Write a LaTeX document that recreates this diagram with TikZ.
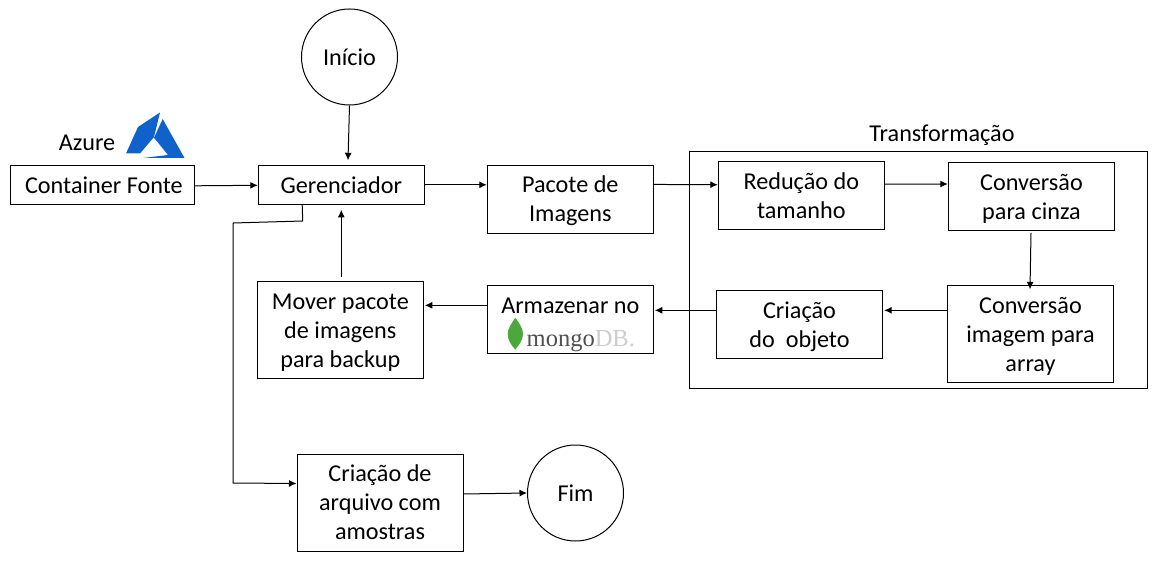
\documentclass[tikz,border=0pt]{standalone}
\usepackage{fontspec}
\setmainfont{Carlito}
\newfontfamily\mongofont{Liberation Serif}
\usetikzlibrary{arrows.meta,calc}
\definecolor{azureblue}{HTML}{0F62CC}
\definecolor{leafgreen}{HTML}{4CA83C}
\definecolor{mongogray}{HTML}{505050}
\definecolor{dbgray}{HTML}{CDCDCD}
\tikzset{
  box/.style={draw=black,line width=1pt,rectangle,align=center,inner sep=0pt,font=\fontsize{24.2}{29}\selectfont},
  circ/.style={draw=black,line width=1pt,circle,minimum size=96pt,inner sep=0pt,font=\fontsize{24.2}{29}\selectfont},
  lbl/.style={inner sep=0pt,font=\fontsize{24.2}{29}\selectfont},
  conn/.style={draw=black,line width=1pt,-{Latex[length=7.5pt,width=7pt]}},
}
\newcommand{\st}{\rule[-5.4pt]{0pt}{27.4pt}}
\newcommand{\bx}[6]{\node[box,minimum width=#4pt-#2pt,minimum height=#5pt-#3pt] (#1) at ({(#2+#4)/2},{(#3+#5)/2}) {#6};}
\begin{document}
\begin{tikzpicture}[x=1pt,y=-1pt]
\useasboundingbox (0,0) rectangle (1165,567);
\bx{trans}{689}{151.5}{1147}{388.3}{}
\node[lbl] (translabel) at (942,133) {\st Transformação};
\node[circ] (inicio) at (349.5,57) {\st Início};
\node[circ] (fim) at (575.5,493) {\st Fim};
\bx{fonte}{10.3}{165.3}{194.5}{204.3}{\st\hspace*{3pt}Container Fonte}
\bx{ger}{258.3}{165.3}{424.3}{204.3}{\st Gerenciador}
\bx{pacote}{487.3}{165.3}{653.3}{233}{\st Pacote de\\\st Imagens}
\bx{reducao}{718.3}{161.7}{884.3}{229.3}{\st Redução do\\\st tamanho}
\bx{cinza}{948.3}{162.7}{1114.7}{230.3}{\st Conversão\\\st para cinza}
\bx{array}{947.3}{285.3}{1113.7}{382.3}{\st Conversão\\\st imagem para\\\st array}
\bx{objeto}{716.3}{290.3}{882.7}{358.3}{\st Criação\\\st do\ \ objeto}
\bx{armazenar}{487.3}{285.3}{653.3}{353.3}{\st Armazenar no\\\st\phantom{x}}
\bx{mover}{257.3}{281.3}{423.3}{378.3}{\st Mover pacote\\\st de imagens\\\st para backup}
\bx{arquivo}{297}{454}{463}{551}{\st Criação de\\\st arquivo com\\\st amostras}
\node[lbl] (azurelabel) at (87,142) {\st Azure};
% Azure logo
\fill[azureblue] (160,112.5) -- (138,127) -- (126,153.5) -- (140,153.5) -- (154,137) -- cycle;
\fill[azureblue] (162.7,119) -- (184.5,158) -- (142.7,158) -- (168,155) -- (154,137.7) -- cycle;
% MongoDB logo
\fill[leafgreen] (515.3,317.7) .. controls (520,324) and (523,329) .. (523,334) .. controls (523,340) and (519,345) .. (515.3,349.5) .. controls (511,345) and (507.7,340) .. (507.7,334) .. controls (507.7,329) and (511,324) .. (515.3,317.7) -- cycle;
\node[anchor=base west,inner sep=0pt,font=\mongofont\fontsize{24.5}{24}\selectfont] (mongologo) at (526.5,346.7) {\textcolor{mongogray}{mongo}\textcolor{dbgray}{DB.}};
% connectors
\draw[conn] ($(fonte.east)+(0,1)$) -- ($(ger.west)+(0,0.5)$);
\draw[conn] (inicio.south) -- ($(ger.north -| inicio.south)+(-1.5,-4.5)$);
\draw[conn] (ger.east) -- (pacote.west |- ger.east);
\draw[conn] ($(pacote.east)+(0,-14.7)$) -- ($(reducao.west)+(0,-10.8)$);
\draw[conn] ($(reducao.east)+(0,-11.3)$) -- ($(cinza.west)+(0,-12.5)$);
\draw[conn] ($(cinza.south)+(-0.5,2)$) -- ($(array.north)+(-0.5,4.5)$);
\draw[conn] ($(array.west)+(0,-23.5)$) -- ($(objeto.east)+(1,-14)$);
\draw[conn] ($(objeto.west)+(0,-14)$) -- ($(armazenar.east)+(1,-9)$);
\draw[conn] ($(armazenar.west)+(0,-14)$) -- ($(mover.east)+(1,-24.5)$);
\coordinate (mtop) at ($(mover.north)+(1,-3.5)$);
\coordinate (gbot) at ($(ger.south)+(0,5)$);
\draw[conn] (mtop) -- (gbot);
\coordinate (gout) at ($(ger.south west)+(44.4,0)$);
\coordinate (k1) at (302.7,221);
\coordinate (k2) at (233,223);
\coordinate (k3) at (233,483);
\draw[conn] (gout) -- (k1) -- (k2) -- (k3) -- ($(arquivo.west)+(0,-19)$);
\draw[conn] ($(arquivo.east)+(0,-8.5)$) -- (fim.west);
\end{tikzpicture}
\end{document}
